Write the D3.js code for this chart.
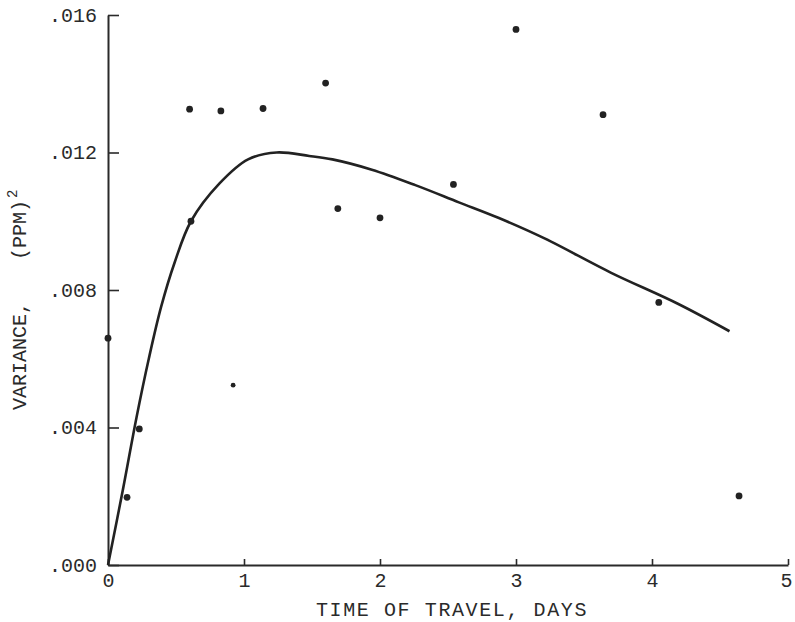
<!DOCTYPE html>
<html>
<head>
<meta charset="utf-8">
<script src="https://cdn.jsdelivr.net/npm/d3@7"></script>
<style>
  body { margin: 0; background: #fff; }
  text { font-family: "Courier New", "Liberation Mono", monospace; fill: #2a2a2a; }
</style>
</head>
<body>
<div id="chart"></div>
<script>
// observed points (time of travel, days / variance ppm^2)
var pointDays = [0, 0.14, 0.23, 0.60, 0.61, 0.83, 0.92, 1.14, 1.60, 1.69, 2.00, 2.54, 3.00, 3.64, 4.05, 4.64];
var pointVar  = [0.0066, 0.00197, 0.00396, 0.01326, 0.0100, 0.01321, 0.00523, 0.01328, 0.01402, 0.01037, 0.01010, 0.01107, 0.01558, 0.01310, 0.00764, 0.00201];

// fitted curve
var curveDays = [0, 0.11, 0.21, 0.30, 0.39, 0.49, 0.61, 0.82, 1.03, 1.24, 1.48, 1.65, 1.94, 2.26, 2.58, 2.87, 3.21, 3.70, 4.19, 4.57];
var curveVar  = [0, 0.0022, 0.0043, 0.0060, 0.0075, 0.0088, 0.0100, 0.0111, 0.0118, 0.0120, 0.0119, 0.0118, 0.0115, 0.01105, 0.01055, 0.0101, 0.0095, 0.0085, 0.0076, 0.0068];

var xTicks = [0, 1, 2, 3, 4, 5];
var yTicks = [0, 0.004, 0.008, 0.012, 0.016];
var yTickLabels = [".000", ".004", ".008", ".012", ".016"];

var width = 795, height = 622;

var svg = d3.select("#chart").append("svg")
	.attr("width", width)
	.attr("height", height);

var x = d3.scaleLinear().domain([0, 5]).range([108, 788]);
var y = d3.scaleLinear().domain([0, 0.016]).range([565, 15]);

// x axis
var xAxis = d3.axisBottom(x)
	.tickValues(xTicks)
	.tickFormat(d3.format("d"))
	.tickSizeInner(-6)
	.tickSizeOuter(0)
	.tickPadding(8);

var gx = svg.append("g")
	.attr("transform", "translate(0," + y(0) + ")")
	.call(xAxis);

// y axis, ticks point inward
var yAxis = d3.axisLeft(y)
	.tickValues(yTicks)
	.tickFormat(function(d, i) { return yTickLabels[i]; })
	.tickSizeInner(-11)
	.tickSizeOuter(0)
	.tickPadding(11);

var gy = svg.append("g")
	.attr("transform", "translate(" + x(0) + ",0)")
	.call(yAxis);

[gx, gy].forEach(function(g) {
	g.select(".domain").attr("stroke", "#2a2a2a").attr("stroke-width", 2);
	g.selectAll(".tick line").attr("stroke", "#2a2a2a").attr("stroke-width", 1.6);
	g.selectAll(".tick text")
		.attr("font-family", "'Courier New', 'Liberation Mono', monospace")
		.attr("font-size", 20)
		.attr("fill", "#2a2a2a");
});
// keep the last x label inside the page
gx.selectAll(".tick text").filter(function(d) { return d === 5; }).attr("dx", -2);

// axis titles
svg.append("text")
	.attr("x", 452)
	.attr("y", 616)
	.attr("text-anchor", "middle")
	.attr("font-size", 20)
	.attr("letter-spacing", 1.6)
	.text("TIME OF TRAVEL, DAYS");

var ytitle = svg.append("text")
	.attr("transform", "translate(26,410) rotate(-90)")
	.attr("text-anchor", "start")
	.attr("font-size", 20);
ytitle.append("tspan").text("VARIANCE,");
ytitle.append("tspan").attr("dx", 42).text("(PPM)");
ytitle.append("tspan").attr("dx", 2).attr("dy", -9).attr("font-size", 14).text("2");

// curve
var curveData = curveDays.map(function(d, i) { return {t: d, v: curveVar[i]}; });
var line = d3.line()
	.x(function(d) { return x(d.t); })
	.y(function(d) { return y(d.v); })
	.curve(d3.curveCatmullRom.alpha(0.5));

svg.append("path")
	.datum(curveData)
	.attr("fill", "none")
	.attr("stroke", "#222")
	.attr("stroke-width", 2.6)
	.attr("d", line);

// points
var pts = pointDays.map(function(d, i) { return {t: d, v: pointVar[i]}; });
svg.selectAll(".pt")
	.data(pts)
	.enter()
	.append("circle")
	.attr("class", "pt")
	.attr("cx", function(d) { return x(d.t); })
	.attr("cy", function(d) { return y(d.v); })
	.attr("r", function(d, i) { return i === 6 ? 2.4 : 3.4; })
	.attr("fill", "#222");
</script>
</body>
</html>
